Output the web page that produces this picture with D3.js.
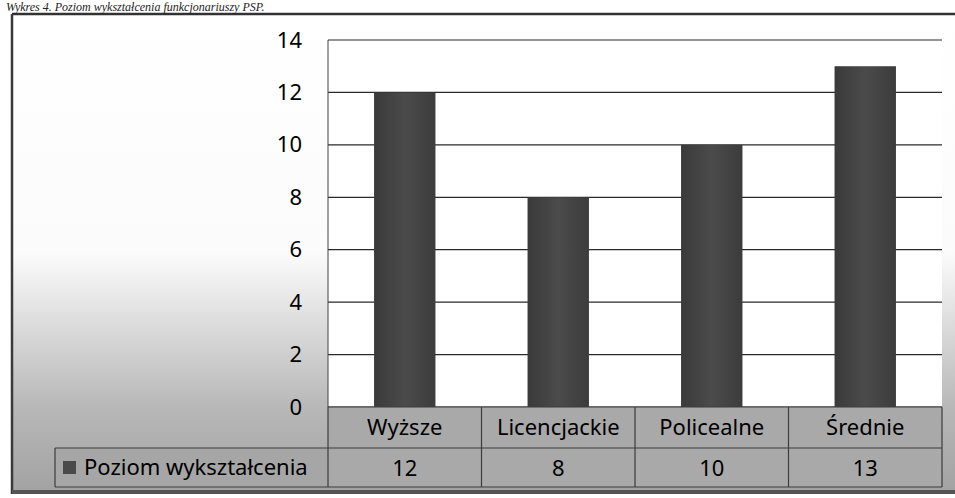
<!DOCTYPE html>
<html>
<head>
<meta charset="utf-8">
<script src="https://cdn.jsdelivr.net/npm/d3@7"></script>
<style>
  body { margin: 0; background: #fff; }
  svg { display: block; }
</style>
</head>
<body>
<div id="chart"></div>
<script>
const categories = ['Wyższe', 'Licencjackie', 'Policealne', 'Średnie'];
const values = [12, 8, 10, 13];
const seriesName = 'Poziom wykształcenia';
const yTicks = [0, 2, 4, 6, 8, 10, 12, 14];
const caption = 'Wykres 4. Poziom wykształcenia funkcjonariuszy PSP.';

document.addEventListener('DOMContentLoaded', () => {

  const width = 955;
  const height = 498;
  const font = 'Noto Sans, Open Sans, sans-serif';
  const fontSize = '22px';

  const plot = { left: 328, right: 942, top: 40, bottom: 407 };
  const rowH1 = 41;
  const rowH2 = 39;
  const legendLeft = 55;

  const svg = d3.select('#chart')
                .append('svg')
                .attr('width', width)
                .attr('height', height);

  const defs = svg.append('defs');

  const bg = defs.append('linearGradient')
                 .attr('id', 'bg')
                 .attr('x1', 0).attr('y1', 0)
                 .attr('x2', 0).attr('y2', 1);
  bg.append('stop').attr('offset', '0%').attr('stop-color', '#ffffff');
  bg.append('stop').attr('offset', '50%').attr('stop-color', '#fbfbfb');
  bg.append('stop').attr('offset', '82%').attr('stop-color', '#b8b8b8');
  bg.append('stop').attr('offset', '100%').attr('stop-color', '#a2a2a2');

  const barGrad = defs.append('linearGradient')
                      .attr('id', 'bar')
                      .attr('x1', 0).attr('y1', 0)
                      .attr('x2', 1).attr('y2', 0);
  barGrad.append('stop').attr('offset', '0%').attr('stop-color', '#3a3a3a');
  barGrad.append('stop').attr('offset', '50%').attr('stop-color', '#4b4b4b');
  barGrad.append('stop').attr('offset', '100%').attr('stop-color', '#3c3c3c');

  // chart background with frame
  svg.append('rect')
     .attr('x', 12)
     .attr('y', 14)
     .attr('width', width - 12)
     .attr('height', 479)
     .attr('fill', 'url(#bg)');

  svg.append('line')
     .attr('x1', 12).attr('x2', width)
     .attr('y1', 14).attr('y2', 14)
     .attr('stroke', '#333')
     .attr('stroke-width', 2.5);
  svg.append('line')
     .attr('x1', 12).attr('x2', 12)
     .attr('y1', 14).attr('y2', 494)
     .attr('stroke', '#3a3a3a')
     .attr('stroke-width', 2.5);
  svg.append('line')
     .attr('x1', 12).attr('x2', width)
     .attr('y1', 492).attr('y2', 492)
     .attr('stroke', '#555')
     .attr('stroke-width', 4);

  // caption above the frame
  svg.append('text')
     .attr('x', 6)
     .attr('y', 11)
     .style('font-family', 'Liberation Serif, serif')
     .style('font-style', 'italic')
     .style('font-size', '12px')
     .attr('fill', '#222')
     .text(caption);

  const x = d3.scaleBand()
              .domain(categories)
              .range([plot.left, plot.right])
              .paddingInner(0.6)
              .paddingOuter(0.3);

  const band = d3.scaleBand()
                 .domain(categories)
                 .range([plot.left, plot.right]);

  const y = d3.scaleLinear()
              .domain([0, 14])
              .range([plot.bottom, plot.top]);

  // plot area
  svg.append('rect')
     .attr('x', plot.left)
     .attr('y', plot.top)
     .attr('width', plot.right - plot.left)
     .attr('height', plot.bottom - plot.top)
     .attr('fill', '#fff');

  svg.append('g')
     .selectAll('line')
     .data(yTicks)
     .enter()
     .append('line')
     .attr('x1', plot.left)
     .attr('x2', plot.right)
     .attr('y1', (d) => y(d))
     .attr('y2', (d) => y(d))
     .attr('stroke', '#2a2a2a')
     .attr('stroke-width', 1.2);

  svg.append('line')
     .attr('x1', plot.left).attr('x2', plot.left)
     .attr('y1', plot.top).attr('y2', plot.bottom)
     .attr('stroke', '#444')
     .attr('stroke-width', 1);

  const yAxis = d3.axisLeft(y)
                  .tickValues(yTicks)
                  .tickSize(0)
                  .tickPadding(26);

  svg.append('g')
     .attr('transform', 'translate(' + plot.left + ', 0)')
     .call(yAxis)
     .call((g) => g.select('.domain').remove())
     .selectAll('text')
     .style('font-family', font)
     .style('font-size', fontSize)
     .attr('fill', '#000');

  svg.append('g')
     .selectAll('rect')
     .data(values)
     .enter()
     .append('rect')
     .attr('x', (d, i) => x(categories[i]))
     .attr('y', (d) => y(d))
     .attr('width', x.bandwidth())
     .attr('height', (d) => y(0) - y(d))
     .attr('fill', 'url(#bar)');

  // data table
  const table = svg.append('g');
  const r1 = plot.bottom;
  const r2 = r1 + rowH1;
  const r3 = r2 + rowH2;

  table.append('rect')
       .attr('x', plot.left)
       .attr('y', r1)
       .attr('width', plot.right - plot.left)
       .attr('height', rowH1 + rowH2)
       .attr('fill', '#a9a9a9');
  table.append('rect')
       .attr('x', legendLeft)
       .attr('y', r2)
       .attr('width', plot.left - legendLeft)
       .attr('height', rowH2)
       .attr('fill', '#a6a6a6');

  const gridColor = '#3c3c3c';
  [[plot.left, r1, plot.right, r1],
   [legendLeft, r2, plot.right, r2],
   [legendLeft, r3, plot.right, r3],
   [legendLeft, r2, legendLeft, r3],
   [plot.right, r1, plot.right, r3]].forEach((l) => {
    table.append('line')
         .attr('x1', l[0]).attr('y1', l[1])
         .attr('x2', l[2]).attr('y2', l[3])
         .attr('stroke', gridColor)
         .attr('stroke-width', 1.2);
  });

  table.selectAll('.sep')
       .data(categories)
       .enter()
       .append('line')
       .attr('class', 'sep')
       .attr('x1', (d) => band(d))
       .attr('x2', (d) => band(d))
       .attr('y1', r1)
       .attr('y2', r3)
       .attr('stroke', gridColor)
       .attr('stroke-width', 1.2);

  table.selectAll('.cat')
       .data(categories)
       .enter()
       .append('text')
       .attr('class', 'cat')
       .attr('x', (d) => band(d) + band.bandwidth() / 2)
       .attr('y', r1 + 28)
       .attr('text-anchor', 'middle')
       .style('font-family', font)
       .style('font-size', fontSize)
       .attr('fill', '#000')
       .text((d) => d);

  table.selectAll('.val')
       .data(values)
       .enter()
       .append('text')
       .attr('class', 'val')
       .attr('x', (d, i) => band(categories[i]) + band.bandwidth() / 2)
       .attr('y', r2 + 28)
       .attr('text-anchor', 'middle')
       .style('font-family', font)
       .style('font-size', fontSize)
       .attr('fill', '#000')
       .text((d) => d);

  table.append('rect')
       .attr('x', legendLeft + 8)
       .attr('y', r2 + 13)
       .attr('width', 13)
       .attr('height', 13)
       .attr('fill', '#4a4a4a');

  table.append('text')
       .attr('x', legendLeft + 29)
       .attr('y', r2 + 27)
       .style('font-family', font)
       .style('font-size', fontSize)
       .attr('fill', '#000')
       .text(seriesName);

});
</script>
</body>
</html>
